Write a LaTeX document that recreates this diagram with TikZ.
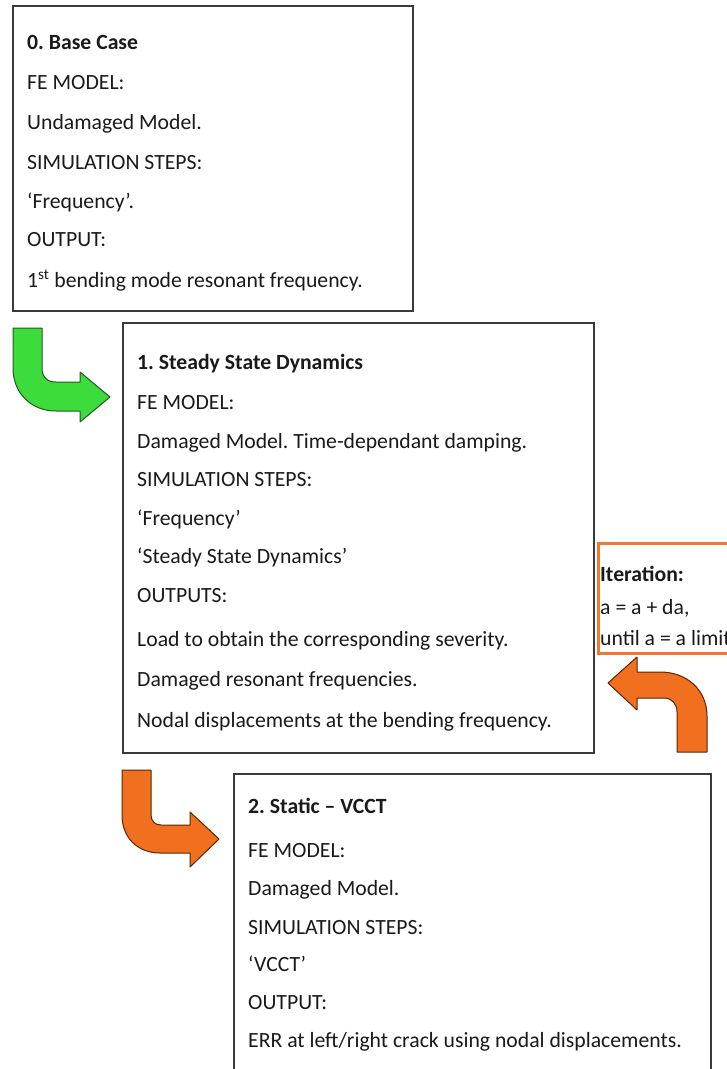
\documentclass[tikz,border=0pt]{standalone}
\usepackage{fontspec}
\setmainfont{Carlito}
\frenchspacing
\definecolor{boxline}{HTML}{3A3A3A}
\definecolor{txt}{HTML}{1A1A1A}
\definecolor{grfill}{HTML}{3DDC3D}
\definecolor{grline}{HTML}{1E5A1E}
\definecolor{orfill}{HTML}{F07020}
\definecolor{orline}{HTML}{5A2600}
\definecolor{orbox}{HTML}{EE7A30}
\begin{document}
\begin{tikzpicture}[x=1pt,y=-1pt,
  box/.style={draw=boxline,line width=1.5pt,fill=white,inner sep=0pt,anchor=north west},
  ln/.style={anchor=base west,inner sep=0pt,text=txt,font=\fontsize{21.7}{26}\selectfont\frenchspacing},
  hd/.style={ln,font=\fontsize{21.7}{26}\selectfont\bfseries\frenchspacing},
  garrow/.style={fill=grfill,draw=grline,line width=1pt,line join=round},
  oarrow/.style={fill=orfill,draw=orline,line width=1pt,line join=round}]
\useasboundingbox (0,0) rectangle (727,1069);
\clip (0,0) rectangle (727,1069);

% Box 0
\node[box,minimum width=400pt,minimum height=305pt] (b0) at (12,5) {};
\node[hd] (b0h) at (27,49) {0. Base Case};
\node[ln] (b0a) at (27,89) {FE MODEL:};
\node[ln] (b0b) at (27,129) {Undamaged Model.};
\node[ln] (b0c) at (27,169) {SIMULATION STEPS:};
\node[ln] (b0d) at (27,208) {‘Frequency’.};
\node[ln] (b0e) at (27,246) {OUTPUT:};
\node[ln] (b0f) at (27,287) {1\textsuperscript{st} bending mode resonant frequency.};

% Box 1
\node[box,minimum width=471pt,minimum height=430pt] (b1) at (122,322) {};
\node[hd] (b1h) at (137,369) {1. Steady State Dynamics};
\node[ln] (b1a) at (137,409) {FE MODEL:};
\node[ln] (b1b) at (137,448) {Damaged Model. Time-dependant damping.};
\node[ln] (b1c) at (137,486) {SIMULATION STEPS:};
\node[ln] (b1d) at (137,525) {‘Frequency’};
\node[ln] (b1e) at (137,563) {‘Steady State Dynamics’};
\node[ln] (b1f) at (137,602) {OUTPUTS:};
\node[ln] (b1g) at (137,646) {Load to obtain the corresponding severity.};
\node[ln] (b1i) at (137,686) {Damaged resonant frequencies.};
\node[ln] (b1j) at (137,727) {Nodal displacements at the bending frequency.};

% Box 2
\node[box,minimum width=477pt,minimum height=310pt] (b2) at (233,773) {};
\node[hd] (b2h) at (248,813) {2. Static – VCCT};
\node[ln] (b2a) at (248,857) {FE MODEL:};
\node[ln] (b2b) at (248,895) {Damaged Model.};
\node[ln] (b2c) at (248,934) {SIMULATION STEPS:};
\node[ln] (b2d) at (248,971) {‘VCCT’};
\node[ln] (b2e) at (248,1009) {OUTPUT:};
\node[ln] (b2f) at (248,1047) {ERR at left/right crack using nodal displacements.};

% Iteration box
\node[draw=orbox,line width=3pt,fill=white,anchor=north west,inner sep=0pt,
      minimum width=145pt,minimum height=110pt] (it) at (597,542) {};
\node[hd] (ith) at (600,581) {Iteration:};
\node[ln] (ita) at (600,614) {a = a + da,};
\node[ln] (itb) at (600,645) {until a = a limit};

% Green arrow (0 -> 1)
\path[garrow] (13,328) -- (42,328) -- (42,368)
  .. controls (42,377) and (47,382) .. (56,382) -- (80,382) -- (80,372)
  -- (110,397) -- (80,422) -- (80,411) -- (56,411)
  .. controls (31,411) and (13,393) .. (13,368) -- cycle;

% Orange arrow (1 -> 2)
\path[oarrow] (122,770) -- (151,770) -- (151,815)
  .. controls (151,821) and (155,825) .. (161,825) -- (190,825) -- (190,812)
  -- (219,839) -- (190,867) -- (190,853) -- (160,853)
  .. controls (138,853) and (122,838) .. (122,815) -- cycle;

% Orange arrow (iteration back)
\path[oarrow] (608,683) -- (637,657) -- (637,672) -- (660,672)
  .. controls (687,672) and (707,690) .. (707,716) -- (707,752) -- (677,752)
  -- (677,712) .. controls (677,704) and (672,698) .. (664,698)
  -- (637,698) -- (637,710) -- cycle;
\end{tikzpicture}
\end{document}
